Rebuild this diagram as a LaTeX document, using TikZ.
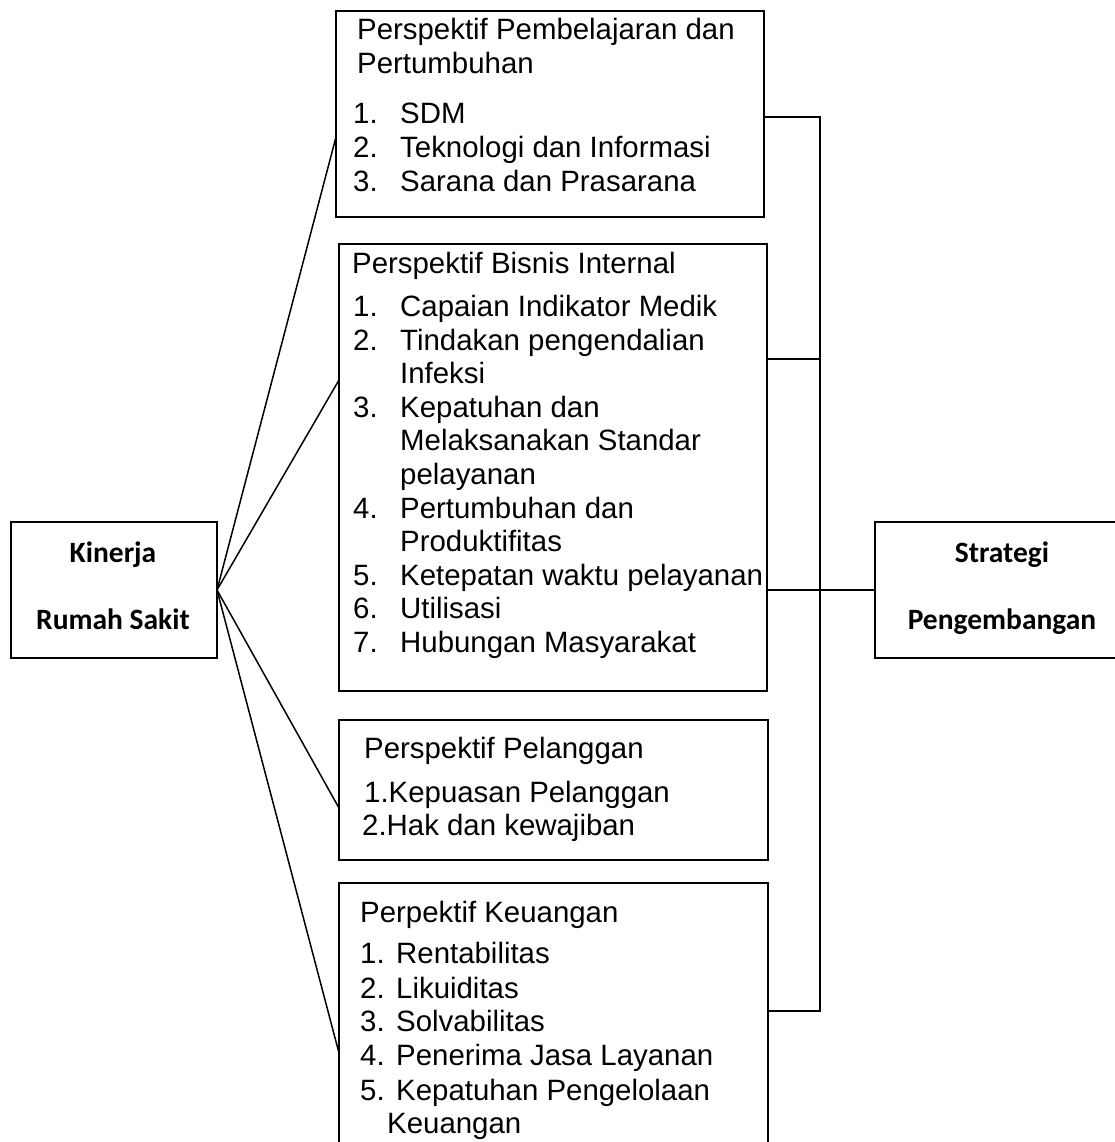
\documentclass[tikz,border=0pt]{standalone}
\usepackage{fontspec}
\setmainfont{Liberation Sans}
\newfontfamily\calibfont{Carlito}
\begin{document}
\begin{tikzpicture}[x=1pt,y=-1pt,
  box/.style={draw, line width=1.7pt, inner sep=0pt, outer sep=0pt, anchor=north west},
  conn/.style={line width=1.5pt},
  txt/.style={anchor=base west, inner sep=0pt, font=\fontsize{29.4}{34}\selectfont},
  btxt/.style={anchor=base, inner sep=0pt, font=\calibfont\bfseries\fontsize{29.5}{34}\selectfont}]
\useasboundingbox (0,0) rectangle (1115,1142);
\clip (0,0) rectangle (1115,1142);

% boxes
\node[box, minimum width=206pt, minimum height=136pt] (kin) at (11,522) {};
\node[box, minimum width=428pt, minimum height=206pt] (b1) at (336,11) {};
\node[box, minimum width=428pt, minimum height=447pt] (b2) at (339,244) {};
\node[box, minimum width=429pt, minimum height=140pt] (b3) at (339,720) {};
\node[box, minimum width=429pt, minimum height=300pt] (b4) at (339,883) {};
\node[box, minimum width=253pt, minimum height=136pt] (str) at (875,522) {};

% bold labels
\node[btxt] (k1) at (113,562) {Kinerja};
\node[btxt] (k2) at (113,629) {Rumah Sakit};
\node[btxt] (s1) at (1002,562) {Strategi};
\node[btxt] (s2) at (1002,629) {Pengembangan};

% box 1
\node[txt] (t1a) at (357,40) {Perspektif Pembelajaran dan};
\node[txt] (t1b) at (357,74) {Pertumbuhan};
\node[txt] (n11) at (353,124) {1.}; \node[txt] (t11) at (400,124) {SDM};
\node[txt] (n12) at (353,158) {2.}; \node[txt] (t12) at (400,158) {Teknologi dan Informasi};
\node[txt] (n13) at (353,192) {3.}; \node[txt] (t13) at (400,192) {Sarana dan Prasarana};

% box 2
\node[txt] (t2a) at (352,273) {Perspektif Bisnis Internal};
\node[txt] (n21) at (353,316) {1.}; \node[txt] (t21) at (400,316) {Capaian Indikator Medik};
\node[txt] (n22) at (353,350) {2.}; \node[txt] (t22) at (400,350) {Tindakan pengendalian};
\node[txt] (t22b) at (400,383) {Infeksi};
\node[txt] (n23) at (353,417) {3.}; \node[txt] (t23) at (400,417) {Kepatuhan dan};
\node[txt] (t23b) at (400,450) {Melaksanakan Standar};
\node[txt] (t23c) at (400,484) {pelayanan};
\node[txt] (n24) at (353,518) {4.}; \node[txt] (t24) at (400,518) {Pertumbuhan dan};
\node[txt] (t24b) at (400,551) {Produktifitas};
\node[txt] (n25) at (353,585) {5.}; \node[txt] (t25) at (400,585) {Ketepatan waktu pelayanan};
\node[txt] (n26) at (353,618) {6.}; \node[txt] (t26) at (400,618) {Utilisasi};
\node[txt] (n27) at (353,652) {7.}; \node[txt] (t27) at (400,652) {Hubungan Masyarakat};

% box 3
\node[txt] (t3a) at (364,758) {Perspektif Pelanggan};
\node[txt] (t31) at (364,802) {1.Kepuasan Pelanggan};
\node[txt] (t32) at (362,835) {2.Hak dan kewajiban};

% box 4
\node[txt] (t4a) at (360,922) {Perpektif Keuangan};
\node[txt] (n41) at (360,963) {1.}; \node[txt] (t41) at (396,963) {Rentabilitas};
\node[txt] (n42) at (360,998) {2.}; \node[txt] (t42) at (396,998) {Likuiditas};
\node[txt] (n43) at (360,1031) {3.}; \node[txt] (t43) at (396,1031) {Solvabilitas};
\node[txt] (n44) at (360,1065) {4.}; \node[txt] (t44) at (396,1065) {Penerima Jasa Layanan};
\node[txt] (n45) at (360,1100) {5.}; \node[txt] (t45) at (396,1100) {Kepatuhan Pengelolaan};
\node[txt] (t45b) at (387,1133) {Keuangan};

% left connectors
\draw[conn] (kin.east) -- ([yshift=-126pt]b1.north west);
\draw[conn] (kin.east) -- ([yshift=-136pt]b2.north west);
\draw[conn] (kin.east) -- ([yshift=-88pt]b3.north west);
\draw[conn] (kin.east) -- ([yshift=-170pt]b4.north west);

% right bus
\coordinate (busT) at (820,117);
\coordinate (busM) at (820,359);
\coordinate (busB) at (820,1011);
\draw[conn] ([yshift=-106pt]b1.north east) -- (busT) -- (busB) -- ([yshift=-128pt]b4.north east);
\draw[conn] ([yshift=-115pt]b2.north east) -- (busM);
\draw[conn] (b2.east |- str.west) -- (str.west);
\end{tikzpicture}
\end{document}
